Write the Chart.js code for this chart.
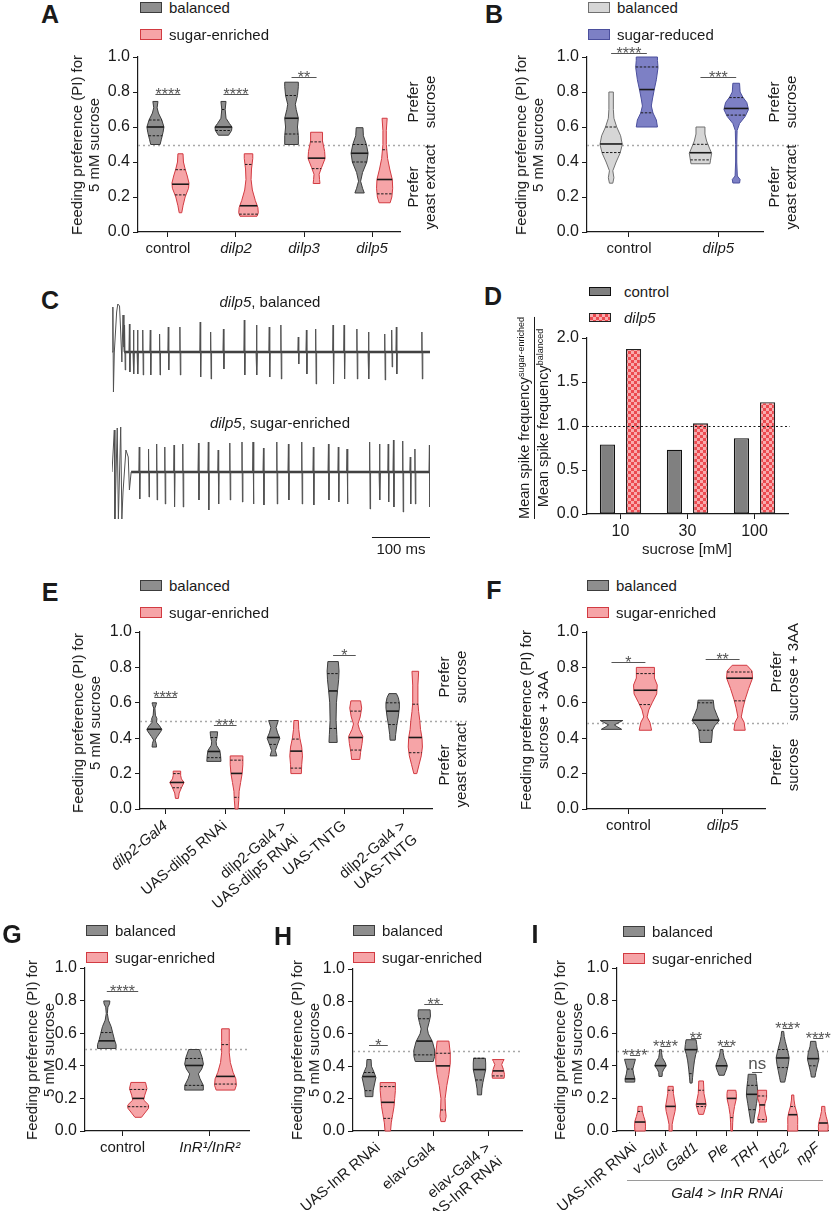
<!DOCTYPE html>
<html>
<head>
<meta charset="utf-8">
<title>Feeding preference after sugar diets</title>
<script src="https://cdn.jsdelivr.net/npm/chart.js@4.4.1/dist/chart.umd.min.js"></script>
<style>
  body { margin: 0; background: #fff; width: 837px; height: 1211px; position: relative; overflow: hidden;
         font-family: "Liberation Sans", Arial, sans-serif; color: #1a1a1a; }
  canvas { position: absolute; }
  .t { position: absolute; white-space: nowrap; font-size: 15px; line-height: 17px; text-align: center; }
  .box { position: absolute; box-sizing: border-box; border: 1px solid; }
  .rule { position: absolute; height: 0; border-top: 1px solid #9a9a9a; }
  sup { font-size: 9px; vertical-align: 5px; line-height: 0; }
</style>
</head>
<body>
<script>
/* ---------- DATA ---------- */
// violin shapes: [PI value, relative half width] from bottom to top
// quartiles: [q1, median, q3]

// A
const catsA = ['control', 'dilp2', 'dilp3', 'dilp5'];
const shapeA_bal = [
  [[0.5,0.55],[0.53,0.7],[0.57,0.9],[0.6,1.0],[0.64,0.75],[0.68,0.35],[0.71,0.2],[0.746,0.3]],
  [[0.553,0.6],[0.58,0.95],[0.6,1.0],[0.62,0.7],[0.65,0.3],[0.7,0.2],[0.746,0.3]],
  [[0.5,0.8],[0.55,0.8],[0.6,0.7],[0.65,0.8],[0.7,0.55],[0.73,0.45],[0.78,0.7],[0.83,0.8],[0.856,0.8]],
  [[0.223,0.55],[0.25,0.35],[0.29,0.12],[0.34,0.35],[0.4,0.85],[0.45,1.0],[0.5,0.8],[0.55,0.45],[0.596,0.4]]
];
const quartA_bal = [[0.55,0.60,0.64],[0.58,0.60,0.70],[0.56,0.65,0.78],[0.40,0.45,0.50]];
const shapeA_sug = [
  [[0.11,0.15],[0.15,0.3],[0.2,0.55],[0.25,0.95],[0.28,1.0],[0.32,0.8],[0.36,0.55],[0.4,0.35],[0.447,0.3]],
  [[0.09,1.0],[0.11,1.15],[0.14,1.1],[0.18,0.8],[0.24,0.45],[0.3,0.3],[0.36,0.35],[0.42,0.5],[0.447,0.5]],
  [[0.277,0.4],[0.3,0.35],[0.33,0.3],[0.37,0.6],[0.42,1.0],[0.46,0.95],[0.52,0.7],[0.57,0.7]],
  [[0.167,0.65],[0.2,0.85],[0.25,0.95],[0.3,0.9],[0.36,0.6],[0.42,0.35],[0.5,0.2],[0.58,0.2],[0.65,0.3]]
];
const quartA_sug = [[0.212,0.273,0.356],[0.102,0.15,0.386],[0.362,0.422,0.515],[0.218,0.30,0.47]];
const sigA = ['****', '****', '**', null];
const sigA_y = [0.79, 0.79, 0.884, null];

// B
const catsB = ['control', 'dilp5'];
const shapeB_bal = [
  [[0.279,0.15],[0.31,0.25],[0.35,0.15],[0.4,0.45],[0.45,0.8],[0.5,1.0],[0.55,0.85],[0.6,0.5],[0.65,0.25],[0.7,0.2],[0.8,0.2]],
  [[0.39,0.85],[0.41,0.9],[0.45,1.0],[0.48,0.8],[0.52,0.55],[0.56,0.4],[0.6,0.4]]
];
const quartB_bal = [[0.454,0.503,0.60],[0.412,0.453,0.501]];
const shapeB_red = [
  [[0.6,0.95],[0.64,0.85],[0.68,0.55],[0.72,0.4],[0.76,0.5],[0.81,0.65],[0.87,0.85],[0.94,1.0],[0.98,0.95],[1.0,0.95]],
  [[0.28,0.3],[0.30,0.35],[0.32,0.1],[0.4,0.05],[0.5,0.05],[0.58,0.08],[0.62,0.3],[0.66,0.8],[0.7,1.1],[0.74,0.95],[0.77,0.6],[0.8,0.35],[0.85,0.3]]
];
const quartB_red = [[0.681,0.814,0.943],[0.668,0.706,0.768]];
const sigB = ['****', '***'];
const sigB_y = [1.024, 0.886];

// C (spike times in ms, amplitudes up / down)
const traceLen = 548;
const scaleBarMs = [448, 548];
const artifactBal = [[0,0],[1.5,45],[2.5,-40],[4,0],[8,40],[10,48],[13,46],[15,20],[17,-10],[19,37],[20.5,5],[21,0]];
const spikesBal_t = [22,30,37,44,53,66,82,97,117,152,170,192,228,249,271,291,321,335,351,381,400,422,442,470,482,490,534];
const spikesBal_up = [27,28,22,22,22,22,18,25,25,30,20,23,32,27,25,27,15,22,23,27,27,23,20,18,22,25,20];
const spikesBal_dn = [18,20,22,22,23,23,23,18,23,25,27,17,23,23,25,27,12,22,32,32,27,27,27,28,15,22,27];
const artifactSug = [[0,0],[4,42],[5,-47],[9,44],[11,-47],[15,45],[17,-47],[19,-20],[24,22],[28,15],[30,-18],[33,0]];
const spikesSug_t = [47,63,77,91,107,122,149,166,183,203,224,243,261,284,304,327,347,373,390,405,444,461,476,485,501,514,522,547];
const spikesSug_up = [25,23,28,25,27,28,29,30,22,29,30,30,24,30,28,30,25,28,25,23,30,28,28,32,31,15,23,27];
const spikesSug_dn = [27,25,28,32,35,35,28,38,32,28,30,32,33,32,28,32,33,28,30,32,37,28,30,35,40,32,32,35];

// D
const catsD = ['10', '30', '100'];
const controlD = [0.79, 0.73, 0.86];
const dilp5D = [1.875, 1.03, 1.27];

// E
const catsE = [['dilp2-Gal4'], ['UAS-dilp5 RNAi'], ['dilp2-Gal4 >', 'UAS-dilp5 RNAi'], ['UAS-TNTG'], ['dilp2-Gal4 >', 'UAS-TNTG']];
const shapeE_bal = [
  [[0.35,0.3],[0.37,0.25],[0.39,0.1],[0.41,0.4],[0.44,0.9],[0.45,1.0],[0.47,0.7],[0.49,0.3],[0.51,0.35],[0.53,0.15],[0.57,0.08],[0.59,0.25],[0.6,0.3]],
  [[0.269,0.95],[0.3,0.9],[0.33,0.8],[0.36,0.35],[0.38,0.3],[0.41,0.45],[0.436,0.5]],
  [[0.3,0.45],[0.33,0.25],[0.36,0.5],[0.4,0.85],[0.43,0.55],[0.46,0.35],[0.5,0.65]],
  [[0.376,0.55],[0.42,0.5],[0.5,0.4],[0.6,0.45],[0.67,0.6],[0.73,0.75],[0.78,0.8],[0.833,0.7]],
  [[0.389,0.35],[0.42,0.4],[0.47,0.55],[0.52,0.75],[0.57,0.9],[0.6,0.9],[0.63,0.75],[0.652,0.5]]
];
const quartE_bal = [[null,0.451,null],[0.29,0.325,0.404],[0.365,0.404,null],[0.455,0.667,0.765],[0.477,0.553,0.60]];
const shapeE_sug = [
  [[0.06,0.2],[0.09,0.3],[0.12,0.6],[0.15,0.95],[0.17,0.6],[0.19,0.5],[0.214,0.5]],
  [[0.0,0.2],[0.05,0.3],[0.1,0.35],[0.15,0.55],[0.2,0.75],[0.25,0.85],[0.3,0.85]],
  [[0.2,0.7],[0.25,0.75],[0.3,0.85],[0.35,0.75],[0.4,0.5],[0.45,0.35],[0.5,0.3]],
  [[0.28,0.55],[0.32,0.65],[0.37,0.85],[0.41,0.95],[0.45,0.5],[0.48,0.3],[0.52,0.6],[0.57,0.8],[0.611,0.65]],
  [[0.2,0.2],[0.25,0.5],[0.3,0.8],[0.35,0.95],[0.4,0.9],[0.45,0.7],[0.5,0.6],[0.55,0.45],[0.6,0.35],[0.7,0.35],[0.778,0.45]]
];
const quartE_sug = [[0.12,0.15,0.20],[0.066,0.201,0.276],[0.231,0.327,0.395],[0.333,0.404,0.553],[0.318,0.404,0.592]];
const sigE = ['****', '***', null, '*', null];
const sigE_y = [0.633, 0.474, null, 0.868, null];

// F
const catsF = ['control', 'dilp5'];
const shapeF_bal = [
  [[0.45,0.9],[0.465,0.5],[0.475,0.25],[0.49,0.7],[0.5,1.0]],
  [[0.376,0.5],[0.4,0.55],[0.445,0.6],[0.47,0.8],[0.5,1.2],[0.53,1.0],[0.57,0.75],[0.615,0.67]]
];
const quartF_bal = [[null,null,null],[0.445,0.502,0.60]];
const shapeF_sug = [
  [[0.445,0.55],[0.49,0.4],[0.52,0.15],[0.56,0.3],[0.6,0.6],[0.65,1.0],[0.7,1.05],[0.74,0.8],[0.8,0.8]],
  [[0.445,0.5],[0.49,0.4],[0.52,0.15],[0.57,0.3],[0.62,0.5],[0.68,0.8],[0.74,1.15],[0.78,1.1],[0.812,0.65]]
];
const quartF_sug = [[0.59,0.671,0.765],[0.611,0.739,0.774]];
const sigF = ['*', '**'];
const sigF_y = [0.829, 0.846];

// G
const catsG = ['control', 'InR¹/InR²'];
const shapeG_bal = [
  [[0.506,0.85],[0.53,0.85],[0.56,0.7],[0.6,0.55],[0.64,0.4],[0.68,0.15],[0.72,0.05],[0.76,0.1],[0.78,0.25],[0.798,0.28]],
  [[0.251,0.85],[0.28,0.85],[0.32,0.55],[0.35,0.4],[0.38,0.7],[0.41,0.86],[0.45,0.75],[0.5,0.49]]
];
const quartG_bal = [[null,0.553,0.604],[0.28,0.402,0.445]];
const shapeG_sug = [
  [[0.084,0.3],[0.11,0.6],[0.14,0.95],[0.16,0.95],[0.19,0.5],[0.22,0.6],[0.26,0.8],[0.298,0.67]],
  [[0.251,0.85],[0.28,1.0],[0.32,0.95],[0.36,0.7],[0.42,0.45],[0.48,0.35],[0.55,0.35],[0.627,0.35]]
];
const quartG_sug = [[0.149,0.2,0.255],[0.288,0.335,0.53]];
const sigG = ['****', null];
const sigG_y = [0.859, null];

// H
const catsH = ['UAS-InR RNAi', 'elav-Gal4', ['elav-Gal4 >', 'UAS-InR RNAi']];
const shapeH_bal = [
  [[0.212,0.55],[0.25,0.6],[0.29,0.8],[0.33,1.0],[0.36,0.75],[0.4,0.35],[0.441,0.3]],
  [[0.429,1.3],[0.46,1.5],[0.5,1.5],[0.55,1.2],[0.6,0.6],[0.63,0.45],[0.67,0.7],[0.71,0.9],[0.748,0.85]],
  [[0.223,0.3],[0.26,0.35],[0.3,0.5],[0.34,0.7],[0.38,0.9],[0.42,0.9],[0.449,0.85]]
];
const quartH_bal = [[0.249,0.336,0.361],[0.47,0.555,0.693],[0.315,0.379,0.449]];
const shapeH_sug = [
  [[0.0,0.4],[0.05,0.5],[0.1,0.7],[0.15,0.9],[0.2,1.0],[0.25,1.1],[0.299,1.1]],
  [[0.058,0.3],[0.09,0.45],[0.13,0.35],[0.2,0.3],[0.28,0.55],[0.35,0.85],[0.42,1.05],[0.48,1.05],[0.555,0.85]],
  [[0.326,0.85],[0.35,0.9],[0.38,0.75],[0.41,0.5],[0.43,0.7],[0.441,0.85]]
];
const quartH_sug = [[0.078,0.177,0.274],[0.13,0.402,0.48],[0.34,0.371,null]];
const sigH = ['*', '**', null];
const sigH_y = [0.528, 0.781, null];

// I
const catsI = ['UAS-InR RNAi', 'v-Glut', 'Gad1', 'Ple', 'TRH', 'Tdc2', 'npF'];
const shapeI_bal = [
  [[0.3,0.9],[0.32,0.95],[0.35,0.7],[0.38,0.55],[0.41,0.8],[0.44,1.05]],
  [[0.335,0.3],[0.36,0.35],[0.38,0.65],[0.4,1.1],[0.42,0.9],[0.45,0.35],[0.48,0.2],[0.499,0.2]],
  [[0.294,0.2],[0.33,0.3],[0.38,0.45],[0.43,0.65],[0.47,0.9],[0.5,1.2],[0.53,1.1],[0.56,0.96]],
  [[0.342,0.5],[0.36,0.7],[0.38,0.95],[0.4,1.1],[0.42,0.9],[0.45,0.5],[0.48,0.3],[0.5,0.25]],
  [[0.049,0.25],[0.08,0.4],[0.12,0.6],[0.17,0.85],[0.22,1.1],[0.27,1.0],[0.31,0.85],[0.348,0.75]],
  [[0.3,0.4],[0.33,0.6],[0.37,0.85],[0.41,1.1],[0.45,1.25],[0.5,0.9],[0.55,0.5],[0.58,0.3],[0.611,0.2]],
  [[0.331,0.35],[0.36,0.5],[0.4,0.8],[0.44,1.1],[0.48,0.95],[0.52,0.6],[0.55,0.5]]
];
const quartI_bal = [[null,0.32,0.38],[null,0.401,null],[0.352,0.499,null],[null,0.40,null],[0.131,0.225,0.28],[0.389,0.448,0.50],[0.40,0.444,null]];
const shapeI_sug = [
  [[0,1.0],[0.03,1.05],[0.06,1.0],[0.09,0.7],[0.12,0.45],[0.151,0.4]],
  [[0,0.3],[0.04,0.3],[0.08,0.55],[0.12,0.85],[0.15,0.96],[0.19,0.75],[0.23,0.55],[0.274,0.5]],
  [[0.102,0.45],[0.13,0.7],[0.16,0.96],[0.19,0.8],[0.23,0.55],[0.27,0.5],[0.307,0.45]],
  [[0,0.15],[0.05,0.2],[0.1,0.3],[0.15,0.55],[0.2,0.9],[0.23,0.9],[0.25,0.8]],
  [[0.055,0.8],[0.08,0.85],[0.11,0.6],[0.14,0.45],[0.17,0.55],[0.2,0.85],[0.25,0.85]],
  [[0,0.95],[0.04,0.95],[0.08,0.96],[0.11,0.8],[0.15,0.45],[0.19,0.25],[0.221,0.2]],
  [[0,0.9],[0.03,0.95],[0.06,0.8],[0.09,0.55],[0.12,0.35],[0.151,0.3]]
];
const quartI_sug = [[null,0.055,0.12],[null,0.151,0.25],[0.15,0.166,0.25],[0.082,0.2,null],[0.07,0.16,0.215],[null,0.1,0.15],[null,0.049,null]];
const sigI = ['****', '****', '**', '***', 'ns', '****', '****'];
const sigI_y = [0.464, 0.52, 0.569, 0.52, 0.362, 0.634, 0.569];

/* ---------- STYLE ---------- */
const FONT = '"Liberation Sans", Arial, sans-serif';
Chart.defaults.font.family = FONT;
Chart.defaults.font.size = 15;
Chart.defaults.color = '#1a1a1a';

const GREY = { fill: '#8e8e8e', stroke: '#3c3c3c' };
const PINK = { fill: '#f6a4a7', stroke: '#d23a41' };
const LGREY = { fill: '#d6d6d6', stroke: '#707070' };
const PURPLE = { fill: '#7d80c5', stroke: '#4b4f9d' };

/* ---------- HELPERS ---------- */
function makeCanvas(l, t, w, h) {
  const c = document.createElement('canvas');
  c.width = w; c.height = h;
  c.style.left = l + 'px'; c.style.top = t + 'px';
  c.style.width = w + 'px'; c.style.height = h + 'px';
  document.body.appendChild(c);
  return c;
}

function label(x, y, html, o = {}) {
  const d = document.createElement('div');
  d.className = 't';
  d.innerHTML = html;
  d.style.left = x + 'px';
  d.style.top = y + 'px';
  if (o.size) d.style.fontSize = o.size + 'px';
  if (o.bold) d.style.fontWeight = 'bold';
  if (o.italic) d.style.fontStyle = 'italic';
  if (o.lh) d.style.lineHeight = o.lh + 'px';
  d.style.transform = (o.left ? 'translate(0,-50%)' : 'translate(-50%,-50%)') + (o.rot ? ' rotate(-90deg)' : '');
  document.body.appendChild(d);
  return d;
}

function legendRow(x, y, col, text, o = {}) {
  const w = o.w || 22, h = o.h || 11;
  const b = document.createElement('div');
  b.className = 'box';
  b.style.left = x + 'px'; b.style.top = (y - h / 2) + 'px';
  b.style.width = w + 'px'; b.style.height = h + 'px';
  b.style.background = col.fill; b.style.borderColor = col.stroke;
  document.body.appendChild(b);
  label(x + (o.gap || 29), y, text, { left: true });
}

function widthAt(shape, v) {
  for (let i = 1; i < shape.length; i++) {
    const [y0, w0] = shape[i - 1], [y1, w1] = shape[i];
    if (v >= y0 && v <= y1) return w0 + (w1 - w0) * (v - y0) / ((y1 - y0) || 1);
  }
  return v < shape[0][0] ? shape[0][1] : shape[shape.length - 1][1];
}

function drawViolin(ctx, xs, ys, cx, shape, q, halfW, fill, stroke) {
  ctx.beginPath();
  shape.forEach(([v, w], i) => {
    const X = xs.getPixelForValue(cx - w * halfW), Y = ys.getPixelForValue(v);
    if (i === 0) ctx.moveTo(X, Y); else ctx.lineTo(X, Y);
  });
  for (let i = shape.length - 1; i >= 0; i--) {
    const [v, w] = shape[i];
    ctx.lineTo(xs.getPixelForValue(cx + w * halfW), ys.getPixelForValue(v));
  }
  ctx.closePath();
  ctx.fillStyle = fill;
  ctx.fill();
  ctx.setLineDash([]);
  ctx.lineWidth = 1;
  ctx.lineJoin = 'round';
  ctx.strokeStyle = stroke;
  ctx.stroke();
  q.forEach((v, k) => {
    if (v == null) return;
    const w = widthAt(shape, v) * halfW;
    const Y = ys.getPixelForValue(v);
    ctx.beginPath();
    ctx.moveTo(xs.getPixelForValue(cx - w), Y);
    ctx.lineTo(xs.getPixelForValue(cx + w), Y);
    ctx.setLineDash(k === 1 ? [] : [2.5, 1.5]);
    ctx.lineWidth = k === 1 ? 1.6 : 1;
    ctx.strokeStyle = '#1a1a1a';
    ctx.stroke();
  });
}

function violinLayer(p) {
  return {
    id: 'violinLayer',
    afterDatasetsDraw(chart) {
      const { ctx, chartArea: a, scales: { x, y } } = chart;
      ctx.save();
      const ry = Math.round(y.getPixelForValue(p.refY)) + 0.5;
      ctx.beginPath();
      ctx.moveTo(a.left, ry);
      ctx.lineTo(a.right + p.refExt, ry);
      ctx.setLineDash([2, 3]);
      ctx.strokeStyle = '#a8a8a8';
      ctx.lineWidth = 1.5;
      ctx.stroke();
      p.cats.forEach((c, i) => {
        p.sets.forEach((s, k) => {
          const cx = i + (k ? p.off : -p.off);
          drawViolin(ctx, x, y, cx, s.shapes[i], s.quarts[i], p.halfW, s.fill, s.stroke);
        });
        if (p.sigY[i] != null) {
          const by = Math.round(y.getPixelForValue(p.sigY[i])) + 0.5;
          ctx.beginPath();
          ctx.moveTo(x.getPixelForValue(i - p.off), by);
          ctx.lineTo(x.getPixelForValue(i + p.off), by);
          ctx.setLineDash([]);
          ctx.strokeStyle = '#555';
          ctx.lineWidth = 1;
          ctx.stroke();
          ctx.fillStyle = '#555';
          ctx.textAlign = 'center';
          ctx.textBaseline = 'alphabetic';
          ctx.font = (p.sig[i] === 'ns' ? '17px ' : '16px ') + FONT;
          ctx.fillText(p.sig[i], x.getPixelForValue(i), by + (p.sig[i] === 'ns' ? -4 : 5));
        }
      });
      ctx.restore();
    }
  };
}

function violinChart(p) {
  // tick labels are clipped to the x scale box, so rotated ones need a tall box
  const YW = 70, PT = 30, PR = 50, XH = p.rot ? 125 : 28, PB = 5;
  const a = p.area;
  const w = a.r - a.l + YW + PR, h = a.b - a.t + PT + XH + PB;
  const cv = makeCanvas(a.l - YW, a.t - PT, w, h);
  const axisGrid = { drawOnChartArea: false, drawTicks: true, tickLength: 5, color: '#1a1a1a', lineWidth: 1 };
  return new Chart(cv, {
    type: 'scatter',
    data: { datasets: [] },
    options: {
      responsive: false, animation: false, devicePixelRatio: 1,
      layout: { padding: { top: PT, right: PR, bottom: PB, left: 0 } },
      plugins: { legend: { display: false }, tooltip: { enabled: false } },
      scales: {
        x: {
          type: 'linear', min: p.xmin, max: p.xmax,
          afterFit: s => { s.height = XH; },
          afterBuildTicks: s => { s.ticks = p.cats.map((c, i) => ({ value: i })); },
          ticks: {
            autoSkip: false, minRotation: p.rot || 0, maxRotation: p.rot || 0, padding: 3,
            font: ctx => ({ size: 15, style: p.italic(ctx.index) ? 'italic' : 'normal' }),
            callback: (v, i) => p.cats[i]
          },
          grid: axisGrid,
          border: { display: true, color: '#1a1a1a', width: 1.2 }
        },
        y: {
          min: 0, max: 1,
          afterFit: s => { s.width = YW; },
          ticks: { stepSize: 0.2, padding: 3, font: { size: 16 }, callback: v => v.toFixed(1) },
          grid: axisGrid,
          border: { display: true, color: '#1a1a1a', width: 1.2 }
        }
      }
    },
    plugins: [violinLayer(p)]
  });
}

/* ---------- PANELS A, B ---------- */
violinChart({
  area: { l: 138, t: 57, r: 400, b: 232 }, xmin: -0.44, xmax: 3.41, cats: catsA, italic: i => i > 0,
  off: 0.184, halfW: 0.125, refY: 0.5, refExt: 35, sig: sigA, sigY: sigA_y,
  sets: [{ shapes: shapeA_bal, quarts: quartA_bal, ...GREY }, { shapes: shapeA_sug, quarts: quartA_sug, ...PINK }]
});
violinChart({
  area: { l: 587, t: 57, r: 763, b: 232 }, xmin: -0.47, xmax: 1.5, cats: catsB, italic: i => i > 0,
  off: 0.2, halfW: 0.125, refY: 0.5, refExt: 37, sig: sigB, sigY: sigB_y,
  sets: [{ shapes: shapeB_bal, quarts: quartB_bal, ...LGREY }, { shapes: shapeB_red, quarts: quartB_red, ...PURPLE }]
});

/* ---------- PANEL C ---------- */
function buildTrace(artifact, t, up, dn) {
  const pts = artifact.map(([x, y]) => ({ x, y }));
  t.forEach((s, i) => {
    pts.push({ x: s - 0.8, y: 0 }, { x: s, y: up[i] }, { x: s + 0.8, y: -dn[i] }, { x: s + 1.6, y: 0 });
  });
  pts.push({ x: traceLen, y: 0 });
  return pts;
}

const scaleBar = {
  id: 'scaleBar',
  afterDraw(chart) {
    const { ctx, scales: { x, y } } = chart;
    const by = Math.round(y.getPixelForValue(-65)) + 0.5;
    ctx.save();
    ctx.beginPath();
    ctx.moveTo(x.getPixelForValue(scaleBarMs[0]), by);
    ctx.lineTo(x.getPixelForValue(scaleBarMs[1]), by);
    ctx.strokeStyle = '#1a1a1a';
    ctx.lineWidth = 1.2;
    ctx.stroke();
    ctx.restore();
  }
};

function traceChart(top, pts, startBase, withBar) {
  const cv = makeCanvas(112, top - 10, 318, 140);
  new Chart(cv, {
    type: 'scatter',
    data: {
      datasets: [
        { data: pts, showLine: true, pointRadius: 0, borderColor: '#505050', borderWidth: 1, order: 1 },
        { data: [{ x: startBase, y: 0 }, { x: traceLen, y: 0 }], showLine: true, pointRadius: 0,
          borderColor: '#333', borderWidth: 2.5, order: 2 }
      ]
    },
    options: {
      responsive: false, animation: false, devicePixelRatio: 1,
      layout: { padding: { top: 10, bottom: 30, left: 0, right: 0 } },
      plugins: { legend: { display: false }, tooltip: { enabled: false } },
      scales: { x: { display: false, min: 0, max: traceLen }, y: { display: false, min: -50, max: 50 } }
    },
    plugins: withBar ? [scaleBar] : []
  });
}
traceChart(302, buildTrace(artifactBal, spikesBal_t, spikesBal_up, spikesBal_dn), 21, false);
traceChart(422, buildTrace(artifactSug, spikesSug_t, spikesSug_up, spikesSug_dn), 33, true);

/* ---------- PANEL D ---------- */
const cvD = makeCanvas(587 - 70, 338 - 20, 788 - 587 + 70 + 20, 514 - 338 + 20 + 28 + 10);
function checker(ctx) {
  const c = document.createElement('canvas');
  c.width = c.height = 6;
  const g = c.getContext('2d');
  g.fillStyle = '#f8abad'; g.fillRect(0, 0, 6, 6);
  g.fillStyle = '#ec4a50'; g.fillRect(0, 0, 3, 3); g.fillRect(3, 3, 3, 3);
  return ctx.createPattern(c, 'repeat');
}
const refLineD = {
  id: 'refLineD',
  afterDatasetsDraw(chart) {
    const { ctx, chartArea: a, scales: { y } } = chart;
    const ry = Math.round(y.getPixelForValue(1.0)) + 0.5;
    ctx.save();
    ctx.beginPath();
    ctx.moveTo(a.left, ry); ctx.lineTo(a.right + 2, ry);
    ctx.setLineDash([2, 2.5]); ctx.strokeStyle = '#1a1a1a'; ctx.lineWidth = 1.2;
    ctx.stroke();
    ctx.restore();
  }
};
new Chart(cvD, {
  type: 'bar',
  data: {
    labels: catsD,
    datasets: [
      { label: 'control', data: controlD, backgroundColor: '#808080', borderColor: '#111', borderWidth: 1.3, borderSkipped: false },
      { label: 'dilp5', data: dilp5D, backgroundColor: checker(cvD.getContext('2d')), borderColor: '#222', borderWidth: 1.3, borderSkipped: false }
    ]
  },
  options: {
    responsive: false, animation: false, devicePixelRatio: 1,
    categoryPercentage: 0.78, barPercentage: 0.58,
    layout: { padding: { top: 20, right: 20, bottom: 10, left: 0 } },
    plugins: { legend: { display: false }, tooltip: { enabled: false } },
    scales: {
      x: {
        afterFit: s => { s.height = 28; },
        ticks: { padding: 3, font: { size: 16 } },
        grid: { offset: false, drawOnChartArea: false, tickLength: 5, color: '#1a1a1a' },
        border: { display: true, color: '#1a1a1a', width: 1.2 }
      },
      y: {
        min: 0, max: 2,
        afterFit: s => { s.width = 70; },
        ticks: { stepSize: 0.5, padding: 3, font: { size: 16 }, callback: v => v.toFixed(1) },
        grid: { drawOnChartArea: false, tickLength: 5, color: '#1a1a1a' },
        border: { display: true, color: '#1a1a1a', width: 1.2 }
      }
    }
  },
  plugins: [refLineD]
});

/* ---------- PANELS E, F ---------- */
violinChart({
  area: { l: 140, t: 632, r: 432, b: 809 }, xmin: -0.43, xmax: 4.47, cats: catsE, italic: i => i === 0, rot: 40,
  off: 0.19, halfW: 0.125, refY: 0.5, refExt: 35, sig: sigE, sigY: sigE_y,
  sets: [{ shapes: shapeE_bal, quarts: quartE_bal, ...GREY }, { shapes: shapeE_sug, quarts: quartE_sug, ...PINK }]
});
violinChart({
  area: { l: 587, t: 632, r: 765, b: 809 }, xmin: -0.44, xmax: 1.45, cats: catsF, italic: i => i > 0,
  off: 0.18, halfW: 0.12, refY: 0.487, refExt: 23, sig: sigF, sigY: sigF_y,
  sets: [{ shapes: shapeF_bal, quarts: quartF_bal, ...GREY }, { shapes: shapeF_sug, quarts: quartF_sug, ...PINK }]
});

/* ---------- PANELS G, H, I ---------- */
violinChart({
  area: { l: 85, t: 968, r: 249, b: 1131 }, xmin: -0.43, xmax: 1.45, cats: catsG, italic: i => i > 0,
  off: 0.18, halfW: 0.125, refY: 0.504, refExt: 0, sig: sigG, sigY: sigG_y,
  sets: [{ shapes: shapeG_bal, quarts: quartG_bal, ...GREY }, { shapes: shapeG_sug, quarts: quartG_sug, ...PINK }]
});
violinChart({
  area: { l: 353, t: 969, r: 522, b: 1131 }, xmin: -0.46, xmax: 2.6, cats: catsH, italic: i => false, rot: 40,
  off: 0.17, halfW: 0.125, refY: 0.491, refExt: 0, sig: sigH, sigY: sigH_y,
  sets: [{ shapes: shapeH_bal, quarts: quartH_bal, ...GREY }, { shapes: shapeH_sug, quarts: quartH_sug, ...PINK }]
});
violinChart({
  area: { l: 617, t: 968, r: 828, b: 1131 }, xmin: -0.59, xmax: 6.32, cats: catsI, italic: i => i > 0, rot: 40,
  off: 0.165, halfW: 0.17, refY: 0.489, refExt: 0, sig: sigI, sigY: sigI_y,
  sets: [{ shapes: shapeI_bal, quarts: quartI_bal, ...GREY }, { shapes: shapeI_sug, quarts: quartI_sug, ...PINK }]
});

/* ---------- TEXT ---------- */
const PI5 = 'Feeding preference (PI) for<br>5 mM sucrose';
const letters = [['A', 50, 14], ['B', 494, 14], ['C', 50, 300], ['D', 493, 296], ['E', 50, 592],
                 ['F', 494, 590], ['G', 12, 934], ['H', 283, 936], ['I', 535, 934]];
letters.forEach(([l, x, y]) => label(x, y, l, { size: 25, bold: true, lh: 25 }));

// legends
legendRow(140, 7, GREY, 'balanced');
legendRow(140, 34, PINK, 'sugar-enriched');
legendRow(588, 7, LGREY, 'balanced');
legendRow(588, 34, PURPLE, 'sugar-reduced');
legendRow(589, 291, { fill: '#808080', stroke: '#111' }, 'control', { h: 9, gap: 35 });
legendRow(589, 317, { fill: 'repeating-conic-gradient(#ec4a50 0 25%, #f8abad 0 50%) 0 0/6px 6px', stroke: '#222' }, '<i>dilp5</i>', { h: 9, gap: 35 });
legendRow(140, 585, GREY, 'balanced');
legendRow(140, 612, PINK, 'sugar-enriched');
legendRow(587, 585, GREY, 'balanced');
legendRow(587, 612, PINK, 'sugar-enriched');
legendRow(86, 930, GREY, 'balanced');
legendRow(86, 957, PINK, 'sugar-enriched');
legendRow(353, 930, GREY, 'balanced');
legendRow(353, 957, PINK, 'sugar-enriched');
legendRow(623, 931, GREY, 'balanced');
legendRow(623, 958, PINK, 'sugar-enriched');

// axis titles
label(85, 145, PI5, { rot: true });
label(529, 145, PI5, { rot: true });
label(85.5, 723, PI5, { rot: true });
label(533.5, 720, 'Feeding preference (PI) for<br>sucrose + 3AA', { rot: true });
label(40, 1050, PI5, { rot: true });
label(305, 1050, PI5, { rot: true });
label(567.5, 1050, PI5, { rot: true });

// preference side notes
label(420.5, 102, 'Prefer<br>sucrose', { rot: true });
label(420.5, 187, 'Prefer<br>yeast extract', { rot: true });
label(782, 102, 'Prefer<br>sucrose', { rot: true });
label(782, 187, 'Prefer<br>yeast extract', { rot: true });
label(451.5, 677, 'Prefer<br>sucrose', { rot: true });
label(451.5, 765, 'Prefer<br>yeast extract', { rot: true });
label(783.5, 672, 'Prefer<br>sucrose + 3AA', { rot: true });
label(783.5, 765, 'Prefer<br>sucrose', { rot: true });

// panel C
label(270, 301, '<i>dilp5</i>, balanced');
label(280, 422, '<i>dilp5</i>, sugar-enriched');
label(401, 548, '100 ms');

// panel D
label(533.5, 418,
  '<div style="border-bottom:1.3px solid #1a1a1a;padding-bottom:1px">Mean spike frequency<sup>sugar-enriched</sup></div>' +
  '<div>Mean spike frequency<sup>balanced</sup></div>', { rot: true, size: 14.5 });
label(687, 548, 'sucrose [mM]');

// panel I bracket
const rule = document.createElement('div');
rule.className = 'rule';
rule.style.left = '627px'; rule.style.top = '1180px'; rule.style.width = '196px';
document.body.appendChild(rule);
label(727, 1192, 'Gal4 &gt; InR RNAi', { italic: true });
</script>
</body>
</html>
